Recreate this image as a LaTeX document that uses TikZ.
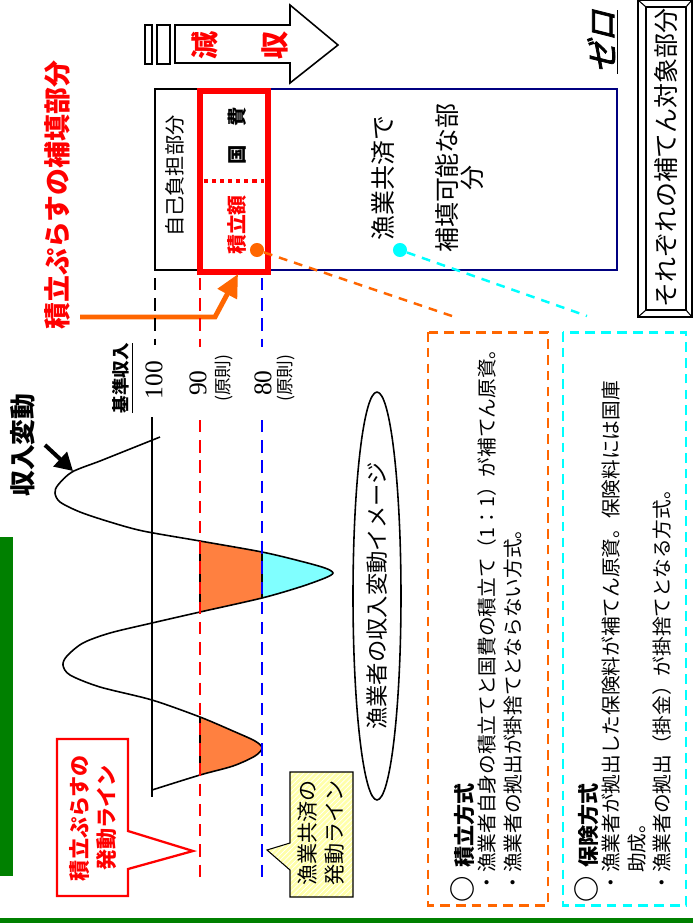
\documentclass[tikz,border=0pt]{standalone}
\usepackage{fontspec}
\setmainfont{Noto Sans CJK JP}
\newfontfamily\numfont{Liberation Serif}
\newfontfamily\zerofont{Noto Sans CJK JP}[FakeSlant=0.25,FakeBold=2.5]
\usetikzlibrary{
  arrows.meta,
  shapes.geometric,
  patterns}

\definecolor{fillorange}{RGB}{255,128,64}
\definecolor{lineorange}{RGB}{255,102,0}
\definecolor{fillcyan}{RGB}{128,255,255}
\definecolor{linecyan}{RGB}{0,255,255}
\definecolor{navyline}{RGB}{0,0,128}
\definecolor{slidegreen}{RGB}{0,128,0}
\definecolor{noteyellow}{RGB}{255,255,170}

\tikzset{vtext/.style={rotate=90, inner sep=0pt},
         linetext/.style={vtext, anchor=west, font=\fontsize{11.2pt}{13pt}\selectfont},
         headtext/.style={vtext, anchor=west, font=\fontsize{12pt}{14pt}\selectfont},
         boxtext/.style={vtext, align=center, font=\fontsize{14.2pt}{14.2pt}\selectfont},
         redbold/.style={vtext, text=red, font=\fontsize{#1}{#1}\selectfont\bfseries},
         numtext/.style={vtext, font=\numfont\fontsize{14.5pt}{15pt}\selectfont},
         ruletext/.style={vtext, font=\fontsize{10pt}{12pt}\selectfont},
         limit/.style={line width=1.7pt, dash pattern=on 7pt off 4.5pt},
         boxline/.style={line width=1.7pt, dash pattern=on 5.5pt off 3.5pt},
         link/.style={line width=1.4pt, dash pattern=on 5pt off 4pt}
        }

\begin{document}
\begin{tikzpicture}[x=0.02cm, y=-0.02cm]
\useasboundingbox (0,0) rectangle (693,924);

%slide frame
\fill[slidegreen] (0,918) rectangle (693,923);
\fill[slidegreen] (0,537) rectangle (13,876);

%decrease arrow
\draw[line width=0.9pt, fill=white] (175,25) -- (290,25) -- (290,5) -- (338,45) -- (290,83) -- (290,63) -- (175,63) -- cycle;
\draw[line width=0.9pt] (145,25) rectangle (152,64);
\draw[line width=0.9pt] (157,25) rectangle (170,64);
\node[redbold=16pt] (gen) at (205,45) {減};
\node[redbold=16pt] (shu) at (275,45) {収};

\node[vtext, font=\zerofont\fontsize{18pt}{18pt}\selectfont] (zero) at (603,42) {\underline{ゼロ}};

%target box on the right
\draw[line width=0.8pt] (638,0) rectangle (692,317);
\draw[line width=0.8pt] (646,7) rectangle (686,310);
\draw[line width=0.6pt] (638,0) -- (646,7) (692,0) -- (686,7) (638,317) -- (646,310) (692,317) -- (686,310);
\node[boxtext] (taisho) at (666,158) {それぞれの補てん対象部分};

%compensation boxes
\draw[line width=0.8pt] (155,89) rectangle (200,270);
\draw[navyline, line width=1.2pt] (268,89) rectangle (617,270);
\draw[red, line width=3.4pt] (200,91) rectangle (268,272);
\draw[red, line width=2.3pt, dash pattern=on 2.3pt off 2.3pt] (204,181) -- (264,181);

\node[vtext, font=\fontsize{11.5pt}{12pt}\selectfont] (jiko) at (175,176) {自己負担部分};
\node[vtext, font=\fontsize{11pt}{12pt}\selectfont\bfseries] (kokuhi) at (237,136) {国\hspace{1em}費};
\node[redbold=11.3pt] (tsumigaku) at (237,225) {積立額};
\node[boxtext] (kyosai1) at (383,178) {漁業共済で};
\node[boxtext] (kyosai2) at (460,178) {補填可能な部\\分};

\node[redbold=15.3pt] (hoten) at (57,195) {積立ぷらすの補填部分};

\coordinate (hstart) at (80,317);
\coordinate (hbend) at (215,317);
\coordinate (htip) at (238,274);
\draw[lineorange, line width=2.8pt, -{Triangle[length=13pt, width=12pt]}] (hstart) -- (hbend) -- (htip);

%dots and links to the boxes below
\node[circle, fill=lineorange, inner sep=0pt, minimum size=8pt] (tsumidot) at (257,250) {};
\node[circle, fill=linecyan, inner sep=0pt, minimum size=8pt] (kyosaidot) at (400,250) {};
\coordinate (tsumiend) at (452,316);
\coordinate (kyosaiend) at (587,316);
\draw[lineorange, link] (tsumidot) -- (tsumiend);
\draw[linecyan, link] (kyosaidot) -- (kyosaiend);

%income graph
\begin{scope}
\clip (200,0) rectangle (262,924);
\fill[fillorange] plot[smooth, tension=0.5] coordinates {(143,531) (200,541) (262,552) (300,561) (325,568) (333,573) (325,578) (300,587) (262,598) (200,612) (152,623)} -- cycle;
\end{scope}
\begin{scope}
\clip (262,0) rectangle (400,924);
\fill[fillcyan] plot[smooth, tension=0.5] coordinates {(143,531) (200,541) (262,552) (300,561) (325,568) (333,573) (325,578) (300,587) (262,598) (200,612) (152,623)} -- cycle;
\end{scope}
\begin{scope}
\clip (200,0) rectangle (400,924);
\fill[fillorange] plot[smooth, tension=0.5] coordinates {(152,700) (200,717) (233,731) (255,741) (262,748) (255,756) (233,766) (200,775) (152,790)} -- cycle;
\end{scope}
\draw[line width=0.6pt] (200,541) -- (200,612) (262,552) -- (262,598) (200,717) -- (200,775);

\draw[line width=1.1pt] (152,417) -- (152,797);
\draw[line width=0.9pt] plot[smooth, tension=0.5] coordinates {(160,437) (130,449) (100,461) (72,472) (58,485) (55,493) (60,502) (80,512) (110,522) (143,531) (200,541) (262,552) (300,561) (325,568) (333,573) (325,578) (300,587) (262,598) (200,612) (152,623) (110,633) (83,643) (67,656) (63,665) (70,675) (100,687) (152,700) (200,717) (233,731) (255,741) (262,748) (255,756) (233,766) (200,775) (152,790)};

\draw[limit] (155,278) -- (155,345);
\draw[red, limit] (200,278) -- (200,347) (200,420) -- (200,878);
\draw[blue, limit] (262,278) -- (262,347) (262,420) -- (262,878);

\node[vtext, font=\fontsize{14.7pt}{15pt}\selectfont\bfseries] (hendo) at (23,445) {収入変動};
\coordinate (hendotail) at (45,445);
\coordinate (hendotip) at (73,471);
\draw[line width=2.3pt, -{Triangle[length=10pt, width=11pt]}] (hendotail) -- (hendotip);

\node[vtext, font=\fontsize{10pt}{12pt}\selectfont\bfseries] (kijun) at (123,378) {\underline{基準収入}};
\node[numtext] (l100) at (154,380) {100};
\node[numtext] (l90) at (198,383) {90};
\node[ruletext] (g90) at (224,378) {(原則)};
\node[numtext] (l80) at (263,383) {80};
\node[ruletext] (g80) at (286,378) {(原則)};

\node[draw, ellipse, rotate=90, line width=0.9pt, minimum width=8.16cm, minimum height=0.96cm, inner sep=0pt, font=\fontsize{12.7pt}{13pt}\selectfont] (image) at (377,596) {漁業者の収入変動イメージ};

%callouts
\draw[red, line width=1.3pt, fill=white] (57,739) -- (128,739) -- (128,831) -- (193,851) -- (128,869) -- (128,896) -- (57,896) -- cycle;
\node[vtext, align=center, text=red, font=\fontsize{12pt}{15.3pt}\selectfont\bfseries] (tsumiline) at (93,818) {積立ぷらすの\\発動ライン};

\fill[noteyellow] (290,772) -- (353,772) -- (353,897) -- (290,897) -- (290,870) -- (267,850) -- (290,843) -- cycle;
\fill[pattern=north east lines, pattern color=white] (290,772) -- (353,772) -- (353,897) -- (290,897) -- (290,870) -- (267,850) -- (290,843) -- cycle;
\draw[line width=0.6pt] (290,772) -- (353,772) -- (353,897) -- (290,897) -- (290,870) -- (267,850) -- (290,843) -- cycle;
\node[vtext, align=center, font=\fontsize{12pt}{15.9pt}\selectfont] (kyosailine) at (321,833) {漁業共済の\\発動ライン};

%method boxes
\draw[lineorange, boxline] (428,332) rectangle (548,905);
\node[headtext] (tsumihead) at (463,903) {{\fontsize{15pt}{15pt}\selectfont\bfseries ○}\hspace{0.4em}\textbf{積立方式}};
\node[linetext] (tsumi1) at (487,893) {・漁業者自身の積立てと国費の積立て（1：1）が補てん原資。};
\node[linetext] (tsumi2) at (513,893) {・漁業者の拠出が掛捨てとならない方式。};

\draw[linecyan, boxline] (563,332) rectangle (686,905);
\node[headtext] (hokenhead) at (587,903) {{\fontsize{15pt}{15pt}\selectfont\bfseries ○}\hspace{0.4em}\textbf{保険方式}};
\node[linetext] (hoken1) at (611,893) {・漁業者が拠出した保険料が補てん原資。保険料には国庫};
\node[linetext] (hoken2) at (637,893) {\hspace*{1em}助成。};
\node[linetext] (hoken3) at (662,893) {・漁業者の拠出（掛金）が掛捨てとなる方式。};

\end{tikzpicture}
\end{document}
